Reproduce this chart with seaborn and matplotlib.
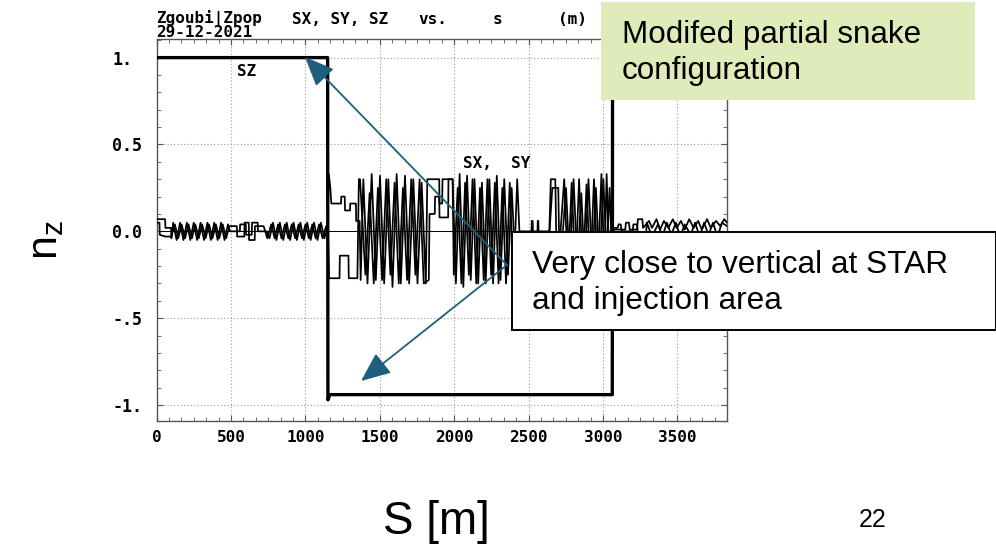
import matplotlib
matplotlib.use("Agg")
import matplotlib.pyplot as plt
import seaborn as sns
import numpy as np
import pandas as pd
from matplotlib.patches import Rectangle
from matplotlib.ticker import MultipleLocator, FixedLocator, FixedFormatter

# ---------------- data ----------------
sx_s = [0, 58, 60, 98, 100, 112, 135, 158, 181, 204, 227, 250, 273, 296, 319, 342, 365, 388, 411, 434, 457, 480,
        495, 560, 562, 600, 602, 640, 642, 680, 682, 740, 760, 783, 806, 829, 852, 875, 898, 921, 944, 967, 990,
        1013, 1036, 1059, 1082, 1105, 1128, 1150,
        1158, 1168, 1175, 1240, 1242, 1265, 1267, 1300, 1302, 1340, 1342, 1365, 1372, 1390, 1418, 1446, 1474, 1502,
        1530, 1558, 1586, 1614, 1642, 1670, 1698, 1726, 1754, 1782, 1810, 1820, 1900, 1902, 1920, 1922, 1990,
        2012, 2037, 2062, 2087, 2112, 2137, 2162, 2187, 2212, 2237, 2262, 2287, 2312, 2337, 2362, 2387, 2412, 2440,
        2520, 2522, 2528, 2530, 2640,
        2650, 2680, 2690, 2715, 2740, 2765, 2790, 2815, 2840, 2865, 2890, 2915, 2940, 2965, 2990, 3010, 3025, 3040,
        3050,
        3080, 3150, 3155, 3175, 3180, 3230, 3235, 3265, 3270, 3310, 3330, 3360, 3385, 3410, 3440, 3470, 3495, 3525,
        3550, 3580, 3610, 3640, 3665, 3700, 3725, 3760, 3790, 3815, 3834]
sx_v = [0.07, 0.07, 0.02, 0.02, -0.04, 0.05, -0.05, 0.05, -0.05, 0.05, -0.05, 0.05, -0.05, 0.05, -0.05, 0.05, -0.05,
        0.05, -0.05, 0.05, -0.05, 0.04,
        0.0, 0.0, 0.04, 0.04, -0.02, -0.02, 0.05, 0.05, 0.0, 0.0, -0.04, 0.05, -0.05, 0.05, -0.05, 0.05, -0.05, 0.05,
        -0.05, 0.05, -0.05, 0.05, -0.05, 0.05, -0.05, 0.05, -0.04, 0.02,
        0.33, 0.25, 0.16, 0.16, 0.2, 0.2, 0.12, 0.12, 0.16, 0.16, 0.06, 0.06, -0.28, 0.3, -0.3, 0.33, -0.28, 0.32,
        -0.3, 0.3, -0.32, 0.33, -0.3, 0.32, -0.3, 0.3, -0.3, 0.28, -0.3, 0.3, 0.3, 0.16, 0.16, 0.3, 0.3,
        -0.3, 0.33, -0.32, 0.32, -0.28, 0.3, -0.3, 0.28, -0.3, 0.3, -0.3, 0.32, -0.28, 0.3, -0.25, 0.25, -0.2, 0.0,
        0.0, 0.06, 0.06, 0.0, 0.0,
        0.3, 0.3, -0.2, 0.0, 0.3, -0.25, 0.28, -0.25, 0.3, -0.25, 0.27, -0.25, 0.3, -0.25, 0.33, -0.2, 0.33, -0.1,
        0.0,
        0.01, 0.01, 0.05, 0.05, 0.01, 0.01, 0.07, 0.07, 0.02, 0.06, 0.02, 0.07, 0.01, 0.06, 0.02, 0.07, 0.02, 0.06,
        0.01, 0.07, 0.02, 0.06, 0.01, 0.07, 0.02, 0.06, 0.03, 0.07, 0.05]

sy_s = [0, 20, 22, 60, 100, 123, 146, 169, 192, 215, 238, 261, 284, 307, 330, 353, 376, 399, 422, 445, 468, 490,
        540, 542, 590, 592, 620, 622, 660, 662, 720, 745, 771, 794, 817, 840, 863, 886, 909, 932, 955, 978, 1001,
        1024, 1047, 1070, 1093, 1116, 1140, 1152,
        1160, 1230, 1232, 1290, 1292, 1350, 1360, 1368, 1404, 1432, 1460, 1488, 1516, 1544, 1572, 1600, 1628, 1656,
        1684, 1712, 1740, 1768, 1796, 1830, 1835, 1870, 1872, 1900, 1902, 1960, 1962, 1990,
        1998, 2024, 2049, 2074, 2099, 2124, 2149, 2174, 2199, 2224, 2249, 2274, 2299, 2324, 2349, 2374, 2399, 2424,
        2440,
        2560, 2562, 2566, 2568, 2640,
        2660, 2700, 2710, 2752, 2777, 2803, 2828, 2855, 2878, 2903, 2928, 2953, 2978, 3003, 3025, 3045, 3055, 3063,
        3065, 3100, 3105, 3120, 3125, 3200, 3205, 3230, 3235, 3290, 3295, 3330, 3370, 3400, 3430, 3460, 3490, 3520,
        3550, 3590, 3620, 3650, 3680, 3710, 3740, 3770, 3800, 3834]
sy_v = [0.05, 0.05, -0.02, -0.03, -0.03, 0.04, -0.04, 0.04, -0.04, 0.04, -0.04, 0.04, -0.04, 0.04, -0.04, 0.04,
        -0.04, 0.04, -0.04, 0.04, -0.04, 0.03,
        0.03, -0.03, -0.03, 0.05, 0.05, -0.05, -0.05, 0.03, 0.03, -0.04, 0.04, -0.04, 0.04, -0.04, 0.04, -0.04, 0.04,
        -0.04, 0.04, -0.04, 0.04, -0.04, 0.04, -0.04, 0.04, -0.04, 0.03, 0.0,
        -0.27, -0.27, -0.14, -0.14, -0.27, -0.27, 0.3, 0.3, -0.25, 0.22, -0.3, 0.25, -0.28, 0.3, -0.25, 0.28, -0.3,
        0.25, -0.28, 0.3, -0.25, 0.3, -0.3, -0.28, 0.1, 0.1, 0.2, 0.2, 0.08, 0.08, 0.3, 0.3,
        -0.25, 0.25, -0.3, 0.28, -0.25, 0.3, -0.3, 0.25, -0.28, 0.3, -0.25, 0.28, -0.3, 0.25, -0.3, 0.28, -0.3, 0.3,
        -0.02,
        -0.02, 0.06, 0.06, -0.02, -0.02,
        0.25, 0.25, -0.25, 0.25, -0.2, 0.3, -0.2, 0.22, -0.22, 0.3, -0.2, 0.25, -0.22, 0.3, -0.15, 0.25, 0.0, 0.0,
        0.02, 0.02, 0.04, 0.04, 0.0, 0.0, 0.04, 0.04, -0.02, -0.02, 0.05, -0.03, 0.04, -0.03, 0.05, -0.02, 0.05,
        -0.03, 0.04, -0.02, 0.05, -0.03, 0.05, -0.02, 0.05, -0.03, 0.05, 0.03]

sz_s = [0, 1150, 1152, 1165, 3063, 3065, 3834]
sz_v = [1.0, 1.0, -0.97, -0.94, -0.94, 1.0, 1.0]

x_ticks = [0, 500, 1000, 1500, 2000, 2500, 3000, 3500]
y_ticks = [-1.0, -0.5, 0.0, 0.5, 1.0]
y_tick_labels = ["-1.", "-.5", "0.0", "0.5", "1."]

# ---------------- figure ----------------
sns.set_theme(style="white")
plt.rcParams['font.family'] = ['DejaVu Sans']
plt.rcParams['text.color'] = 'black'

W, H = 996, 546
fig = plt.figure(figsize=(W / 100, H / 100), dpi=100)
fig.patch.set_facecolor("white")

L, R, T, B = 156.5, 727.0, 38.5, 420.7
ax = fig.add_axes([L / W, 1 - B / H, (R - L) / W, (B - T) / H])
ax.set_facecolor("white")

mono = dict(family="DejaVu Sans Mono", weight="bold", size=11.5, color="black")

ax.axhline(0, color="black", lw=0.7, zorder=1)
sns.lineplot(x=sx_s, y=sx_v, ax=ax, sort=False, estimator=None, color="black", lw=1.25, zorder=3)
sns.lineplot(x=sy_s, y=sy_v, ax=ax, sort=False, estimator=None, color="black", lw=1.25, zorder=3)
sns.lineplot(x=sz_s, y=sz_v, ax=ax, sort=False, estimator=None, color="black", lw=2.4, zorder=4)

ax.set_xlim(0, 3834)
ax.set_ylim(-1.09, 1.11)
ax.xaxis.set_major_locator(FixedLocator(x_ticks))
ax.xaxis.set_minor_locator(MultipleLocator(500 / 6))
ax.yaxis.set_major_locator(FixedLocator(y_ticks))
ax.yaxis.set_major_formatter(FixedFormatter(y_tick_labels))
ax.yaxis.set_minor_locator(MultipleLocator(0.1))
ax.grid(True, which="major", color="#9a9a9a", lw=0.8, linestyle=(0, (1, 2)))
ax.tick_params(which="both", direction="in", top=True, right=True, bottom=True, left=True, color="#555555")
ax.tick_params(which="major", length=4, width=0.8)
ax.tick_params(which="minor", length=3, width=0.6)
ax.tick_params(axis="x", pad=7)
ax.tick_params(axis="y", pad=32)
for lab in ax.get_xticklabels():
    lab.set_fontproperties(dict(family="DejaVu Sans Mono", weight="bold", size=11.5))
    lab.set_color("black")
for lab in ax.get_yticklabels():
    lab.set_fontproperties(dict(family="DejaVu Sans Mono", weight="bold", size=12))
    lab.set_color("black")
    lab.set_horizontalalignment("left")
for sp in ax.spines.values():
    sp.set_color("#555555")
    sp.set_linewidth(1.0)

ax.set_xlabel("S [m]", fontsize=33, family="Liberation Sans", color="black")
ax.xaxis.set_label_coords((436 - L) / (R - L), (B - 522) / (B - T))
ax.xaxis.label.set_va("center")
ax.set_ylabel(r"n$_\mathregular{z}$", fontsize=31, family="Liberation Sans", color="black")
ax.yaxis.set_label_coords((46 - L) / (R - L), (B - 240) / (B - T))
ax.yaxis.label.set_va("center")

ax.text(540, 0.92, "SZ", ha="left", va="center", **mono)
ax.text(2057, 0.39, "SX,  SY", ha="left", va="center", **mono)

# overlay in figure pixel coordinates
ov = fig.add_axes([0, 0, 1, 1])
ov.set_xlim(0, W)
ov.set_ylim(H, 0)
ov.axis("off")
ov.set_zorder(10)

ov.text(156, 25, "Zgoubi|Zpop\n29-12-2021", ha="left", va="center", linespacing=0.8, **mono)
ov.text(292, 20, "SX, SY, SZ", ha="left", va="center", **mono)
ov.text(418, 20, "vs.", ha="left", va="center", **mono)
ov.text(493, 20, "s", ha="left", va="center", **mono)
ov.text(558, 20, "(m)", ha="left", va="center", **mono)

teal = "#1d5f7c"
for tip in [(305, 57), (361, 381)]:
    ov.annotate("", xy=tip, xytext=(507, 265),
                arrowprops=dict(arrowstyle="-|>,head_length=1.3,head_width=0.55", color=teal, lw=1.3,
                                mutation_scale=14, shrinkA=0, shrinkB=0), zorder=5)

ov.add_patch(Rectangle((601, 2), 374, 98, facecolor="#dfebb9", edgecolor="none", zorder=6))
ov.text(622, 53, "Modifed partial snake\nconfiguration", ha="left", va="center", fontsize=22.6,
        family="Liberation Sans", linespacing=1.22, color="black", zorder=7)

ov.add_patch(Rectangle((512, 232), 484, 98, facecolor="white", edgecolor="black", lw=1.4, zorder=6))
ov.text(532, 283, "Very close to vertical at STAR\nand injection area", ha="left", va="center", fontsize=22.8,
        family="Liberation Sans", linespacing=1.22, color="black", zorder=7)

ov.text(873, 520, "22", ha="center", va="center", fontsize=18, family="Liberation Sans", color="black")

fig.savefig("out.png", dpi=100)
